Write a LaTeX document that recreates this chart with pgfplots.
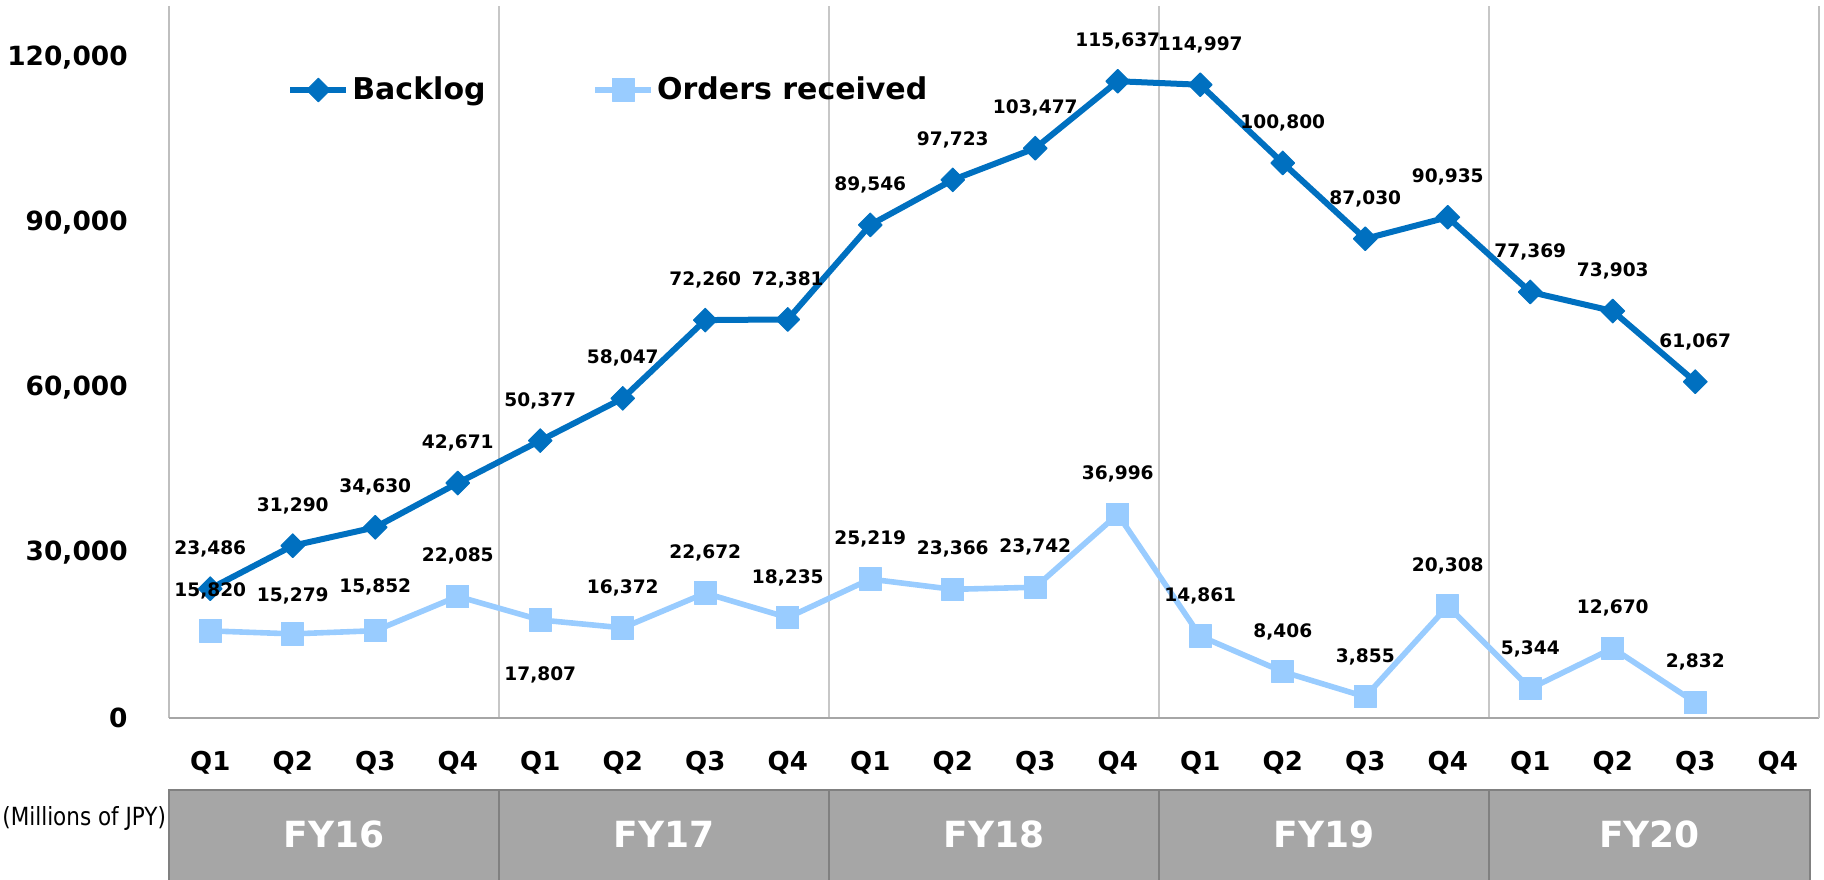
\documentclass[border=0pt]{standalone}
\usepackage{pgfplots}
\pgfplotsset{compat=1.18}
\usepackage{pgfplotstable}
\usepackage{fontspec}
\setmainfont{DejaVu Sans}
\definecolor{backlog}{HTML}{0070C0}
\definecolor{orders}{HTML}{99CCFF}
\definecolor{boxgray}{HTML}{A6A6A6}
\definecolor{boxedge}{HTML}{808080}

% x: quarter index from FY16 Q1, dy: label offset (pt)
\pgfplotstableread{
x y dy
0 23486 20
1 31290 20
2 34630 20
3 42671 20
4 50377 20
5 58047 20
6 72260 20
7 72381 20
8 89546 20
9 97723 20
10 103477 20
11 115637 20
12 114997 20
13 100800 20
14 87030 20
15 90935 20
16 77369 20
17 73903 20
18 61067 20
}\backlogdata
\pgfplotstableread{
x y dy
0 15820 20
1 15279 19
2 15852 22
3 22085 20
4 17807 -27.5
5 16372 20
6 22672 20
7 18235 20
8 25219 20
9 23366 20
10 23742 20
11 36996 20
12 14861 20
13 8406 20
14 3855 20
15 20308 20
16 5344 20
17 12670 20
18 2832 20
}\ordersdata

\begin{document}
\begin{tikzpicture}
\begin{axis}[
  at={(0,0)}, anchor=south west,
  scale only axis, width=825pt, height=356pt,
  xmin=-0.5, xmax=19.5, ymin=0, ymax=129300,
  clip=false,
  axis line style={draw=none},
  tick style={draw=none}, major tick length=0pt,
  xtick={0,...,19},
  xticklabels={Q1,Q2,Q3,Q4,Q1,Q2,Q3,Q4,Q1,Q2,Q3,Q4,Q1,Q2,Q3,Q4,Q1,Q2,Q3,Q4},
  xticklabel style={anchor=center, inner sep=0pt, yshift=-22.5pt, font=\fontsize{13}{15}\selectfont\bfseries},
  ytick={0,30000,60000,90000,120000},
  scaled y ticks=false,
  yticklabel style={anchor=east, inner sep=0pt, xshift=-20.5pt, font=\fontsize{13.2}{15}\selectfont\bfseries},
  /pgf/number format/.cd, fixed, precision=0, 1000 sep={,}, assume math mode=true, /pgfplots/.cd,
  extra x ticks={3.5,7.5,11.5,15.5},
  extra x tick labels={},
  extra x tick style={grid=major, major grid style={draw=black!22, line width=0.6pt}},
  legend columns=2,
  legend cell align=left,
  legend style={at={(0.0715,0.882)}, anchor=west, draw=none, fill=none, inner sep=0pt,
    font=\fontsize{15}{18}\selectfont\bfseries,
    nodes={inner sep=1.5pt},
    /tikz/every even column/.append style={column sep=52pt}},
  legend image code/.code={\draw[mark repeat=2, mark phase=2, #1] plot coordinates {(0pt,0pt) (14pt,0pt) (28pt,0pt)};},
  nodes near coords={\pgfmathprintnumber{\pgfplotspointmeta}},
  visualization depends on={\thisrow{dy} \as \dy},
  every node near coord/.append style={anchor=center, yshift=\dy pt, inner sep=0pt, text=black,
    font=\fontsize{9.3}{11}\selectfont\bfseries},
]
\addplot[color=backlog, line width=3pt, line join=round, mark=square*,
  mark size=4.2pt, mark options={rotate=45, solid, fill=backlog, draw=backlog, line width=0.5pt}]
  table[x=x, y=y] {\backlogdata};
\addlegendentry{Backlog}
\addplot[color=orders, line width=2.8pt, line join=round, mark=square*,
  mark size=5.6pt, mark options={solid, fill=orders, draw=orders, line width=0.5pt, rounded corners=1.5pt}]
  table[x=x, y=y] {\ordersdata};
\addlegendentry{Orders received}
\end{axis}

% frame: left, bottom, right (axis box is 825pt x 356pt at the origin)
\draw[black!25, line width=0.6pt] (0pt,356pt) -- (0pt,0pt);
\draw[black!35, line width=0.9pt] (0pt,0pt) -- (825pt,0pt);
\draw[black!25, line width=0.6pt] (825pt,0pt) -- (825pt,356pt);

% fiscal year band (one quarter = 41.25pt)
\foreach \a/\b/\lab in {0/165/FY16, 165/330/FY17, 330/495/FY18, 495/660/FY19, 660/820.5/FY20} {
  \draw[fill=boxgray, draw=boxedge, line width=1.3pt]
    (\a pt,-36pt) rectangle (\b pt,-82pt);
  \node[text=white, font=\fontsize{18}{21}\selectfont\bfseries]
    at ({(\a+\b)/2*1pt},-58pt) {\lab};
}
\node[anchor=west, inner sep=0pt] at (-83.5pt,-50pt)
  {\scalebox{0.86}[1]{\fontsize{12.5}{14}\selectfont (Millions of JPY)}};
\pgfresetboundingbox
\useasboundingbox (-84.5pt,-80.5pt) rectangle (827.5pt,359pt);
\end{tikzpicture}
\end{document}
